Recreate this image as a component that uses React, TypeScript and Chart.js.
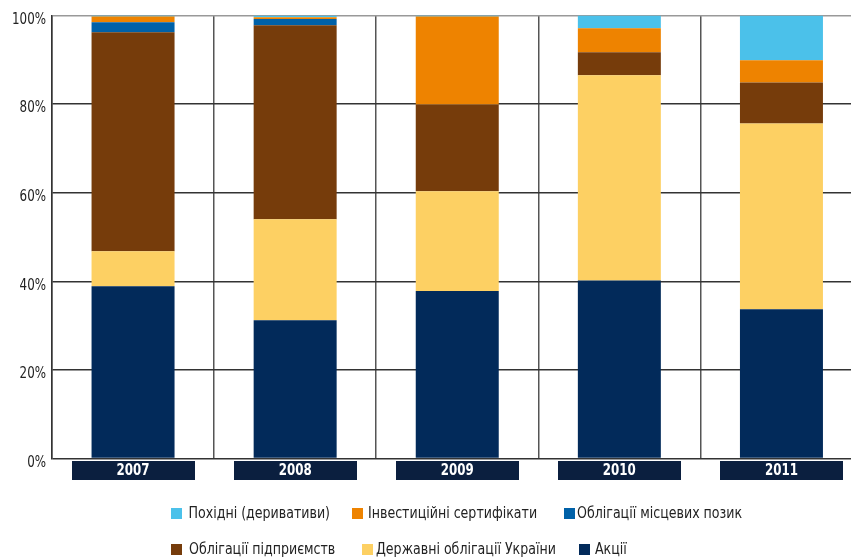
import React, { useEffect, useRef } from "react";
import { Chart, registerables } from "chart.js";

Chart.register(...registerables);

const years = ["2007", "2008", "2009", "2010", "2011"];
const yTicks = [0, 20, 40, 60, 80, 100];

const akcii = [38.9, 31.2, 37.8, 40.2, 33.7];
const derzhavni = [7.9, 22.8, 22.5, 46.3, 41.9];
const pidpryiemstv = [49.4, 43.8, 19.6, 5.2, 9.3];
const mistsevykh = [2.3, 1.4, 0, 0, 0];
const investytsiini = [1.3, 0.4, 19.9, 5.4, 5.0];
const pokhidni = [0.2, 0.4, 0.2, 2.9, 10.1];

const seriesNames = [
  "Акції",
  "Державні облігації України",
  "Облігації підприємств",
  "Облігації місцевих позик",
  "Інвестиційні сертифікати",
  "Похідні (деривативи)",
];
const seriesValues = [akcii, derzhavni, pidpryiemstv, mistsevykh, investytsiini, pokhidni];
const seriesColors = ["#022a5a", "#fdd063", "#763c0b", "#0061a8", "#ee8300", "#4bc1ea"];

// legend rows (indices into series arrays)
const legendRows = [
  [5, 4, 3],
  [2, 1, 0],
];

const FONT = "'Liberation Sans Narrow', 'DejaVu Sans Condensed', 'DejaVu Sans', sans-serif";

function drawNarrow(ctx: any, text: string, x: number, y: number, sx: number) {
  ctx.save();
  ctx.translate(x, y);
  ctx.scale(sx, 1);
  ctx.fillText(text, 0, 0);
  ctx.restore();
}

export default function App() {
  const ref = useRef<HTMLCanvasElement | null>(null);

  useEffect(() => {
    if (!ref.current) return;

    const yearBoxes = {
      id: "yearBoxes",
      afterDraw(chart: any) {
        const { ctx, chartArea } = chart;
        const xs = chart.scales.x;
        ctx.save();
        ctx.font = "bold 15px " + FONT;
        const sx = Math.min(1, 33 / ctx.measureText("2007").width);
        years.forEach((y, i) => {
          const cx = xs.getPixelForValue(i);
          ctx.fillStyle = "#0b1f3f";
          ctx.fillRect(Math.round(cx - 61.5), Math.round(chartArea.bottom + 2.5), 123, 19);
          ctx.fillStyle = "#ffffff";
          ctx.textAlign = "center";
          ctx.textBaseline = "middle";
          drawNarrow(ctx, y, cx, chartArea.bottom + 13, sx);
        });
        ctx.restore();
      },
    };

    const yLabels = {
      id: "yLabels",
      afterDraw(chart: any) {
        const { ctx, chartArea } = chart;
        const ys = chart.scales.y;
        ctx.save();
        ctx.font = "15px " + FONT;
        const sx = Math.min(1, 34 / ctx.measureText("100%").width);
        ctx.fillStyle = "#222222";
        ctx.textAlign = "right";
        ctx.textBaseline = "middle";
        ys.ticks.forEach((t: any) => {
          const py = ys.getPixelForValue(t.value);
          drawNarrow(ctx, t.value + "%", chartArea.left - 6, py + 4.5, sx);
        });
        ctx.restore();
      },
    };

    const boxX = [
      [171, 352, 564],
      [171, 362, 579],
    ];
    const textX = [
      [188.5, 368, 577],
      [189, 376, 595],
    ];
    const rowY = [513.5, 549.5];

    const customLegend = {
      id: "customLegend",
      afterDraw(chart: any) {
        const { ctx } = chart;
        ctx.save();
        ctx.font = "16px " + FONT;
        ctx.textBaseline = "middle";
        ctx.textAlign = "left";
        const sx = Math.min(1, 141.5 / ctx.measureText(seriesNames[5]).width);
        legendRows.forEach((row, r) => {
          row.forEach((si, c) => {
            ctx.fillStyle = seriesColors[si];
            ctx.fillRect(boxX[r][c], rowY[r] - 5.5, 11, 11);
            ctx.fillStyle = "#222222";
            drawNarrow(ctx, seriesNames[si], textX[r][c], rowY[r] + 0.5, sx);
          });
        });
        ctx.restore();
      },
    };

    const chart = new Chart(ref.current, {
      type: "bar",
      data: {
        labels: years,
        datasets: seriesValues.map((vals, i) => ({
          label: seriesNames[i],
          data: vals,
          backgroundColor: seriesColors[i],
          borderWidth: 0,
          barPercentage: 0.512,
          categoryPercentage: 1,
        })),
      },
      options: {
        responsive: false,
        animation: false,
        layout: { padding: { left: 0, right: 1.5, top: 15.5, bottom: 75.5 } },
        plugins: {
          legend: { display: false },
          tooltip: { enabled: false },
        },
        scales: {
          x: {
            stacked: true,
            grid: { color: "#555555", lineWidth: 1.5, drawTicks: false, offset: true },
            border: { display: false },
            ticks: { display: false },
            afterFit(scale: any) {
              scale.height = 25;
            },
          },
          y: {
            stacked: true,
            min: 0,
            max: 100,
            afterBuildTicks(scale: any) {
              scale.ticks = yTicks.map((v) => ({ value: v }));
            },
            grid: {
              color: (c: any) => (c.tick && c.tick.value === 100 ? "#999999" : "#333333"),
              lineWidth: 1.5,
              drawTicks: false,
            },
            border: { display: true, color: "#333333", width: 1.5 },
            ticks: { display: false },
            afterFit(scale: any) {
              scale.width = 52;
            },
          },
        },
      },
      plugins: [yearBoxes, yLabels, customLegend],
    });

    return () => chart.destroy();
  }, []);

  return (
    <div
      style={{
        position: "fixed",
        left: 0,
        top: 0,
        width: 851,
        height: 559,
        overflow: "hidden",
        background: "#ffffff",
      }}
    >
      <canvas ref={ref} width={864} height={559} style={{ width: 864, height: 559, display: "block" }} />
    </div>
  );
}
